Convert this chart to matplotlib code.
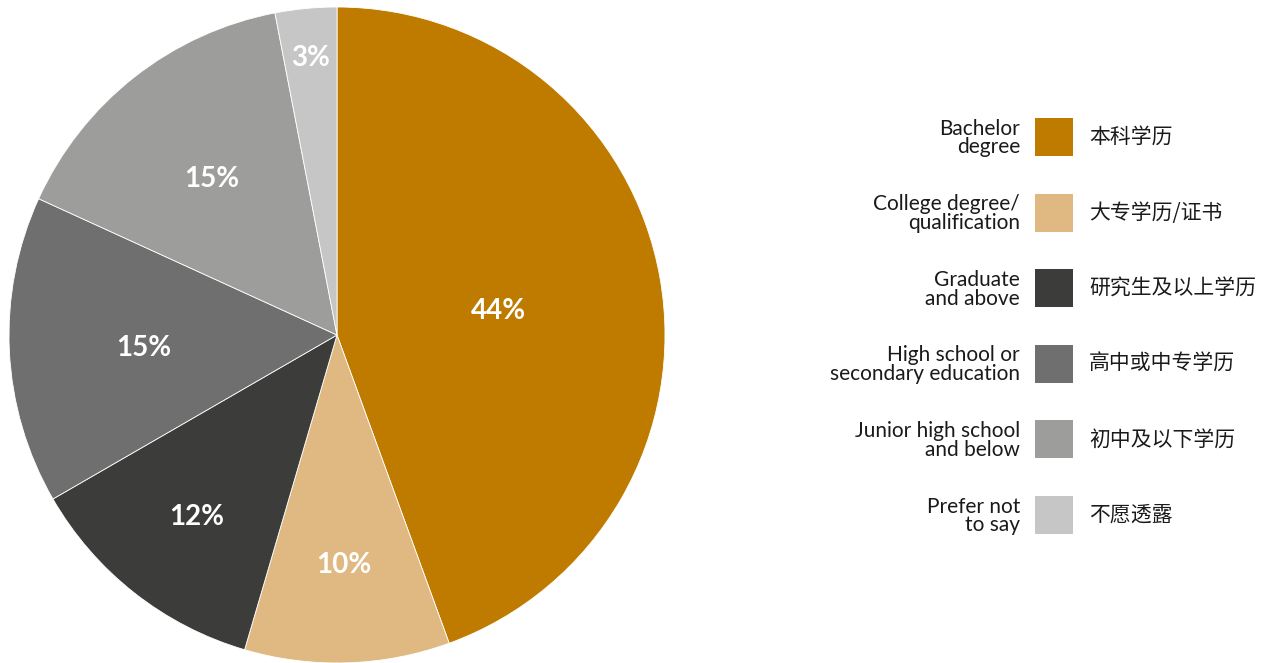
import matplotlib
matplotlib.use("Agg")
import matplotlib.pyplot as plt
from matplotlib.patches import Rectangle
import matplotlib.transforms as mtransforms
import numpy as np

# Education level breakdown
labels_en = ["Bachelor\ndegree", "College degree/\nqualification", "Graduate\nand above",
             "High school or\nsecondary education", "Junior high school\nand below",
             "Prefer not\nto say"]
labels_zh = ["本科学历", "大专学历/证书", "研究生及以上学历", "高中或中专学历",
             "初中及以下学历", "不愿透露"]
shares = [44, 10, 12, 15, 15, 3]
colors = ["#BE7B00", "#E0B982", "#3C3C3B", "#6F6F6F", "#9D9D9C", "#C6C6C6"]
label_radius = [0.50, 0.69, 0.69, 0.59, 0.62, 0.86]

W, H = 1268, 663
fig = plt.figure(figsize=(W / 100, H / 100), dpi=100)

# Pie axes: centre (337, 335) px, radius 328 px
cx, cy, r = 337, 335, 328
ax = fig.add_axes([(cx - r) / W, (H - cy - r) / H, 2 * r / W, 2 * r / H])
wedges, _ = ax.pie(shares, colors=colors, startangle=90, counterclock=False,
                   wedgeprops=dict(edgecolor="white", linewidth=0.6))
ax.set_xlim(-1, 1)
ax.set_ylim(-1, 1)
ax.set_aspect("equal")
ax.axis("off")
for w in wedges:
    w.set_clip_on(False)

shift = mtransforms.ScaledTranslation(0, -4 / 100, fig.dpi_scale_trans)
for w, val, rd in zip(wedges, shares, label_radius):
    mid = np.deg2rad((w.theta1 + w.theta2) / 2)
    ax.text(rd * np.cos(mid), rd * np.sin(mid), f"{val}%", ha="center", va="center",
            color="white", fontsize=20, fontweight="bold",
            family=["Lato", "DejaVu Sans"], transform=ax.transData + shift)

# Legend drawn on a pixel-space overlay
lg = fig.add_axes([0, 0, 1, 1])
lg.set_xlim(0, W)
lg.set_ylim(H, 0)
lg.axis("off")
row0, step = 137, 75.6
sw = 38
for i, (en, zh, c) in enumerate(zip(labels_en, labels_zh, colors)):
    y = row0 + i * step
    lg.add_patch(Rectangle((1035, y - sw / 2), sw, sw, facecolor=c, edgecolor="none"))
    lg.text(1020, y + 1, en, ha="right", va="center", fontsize=15, color="#1a1a1a",
            linespacing=0.93, family=["Lato", "DejaVu Sans"])
    lg.text(1089, y, zh, ha="left", va="center", fontsize=15, color="#1a1a1a",
            family=["Noto Sans CJK SC", "DejaVu Sans"])

fig.savefig("out.png", dpi=100, facecolor="white")
